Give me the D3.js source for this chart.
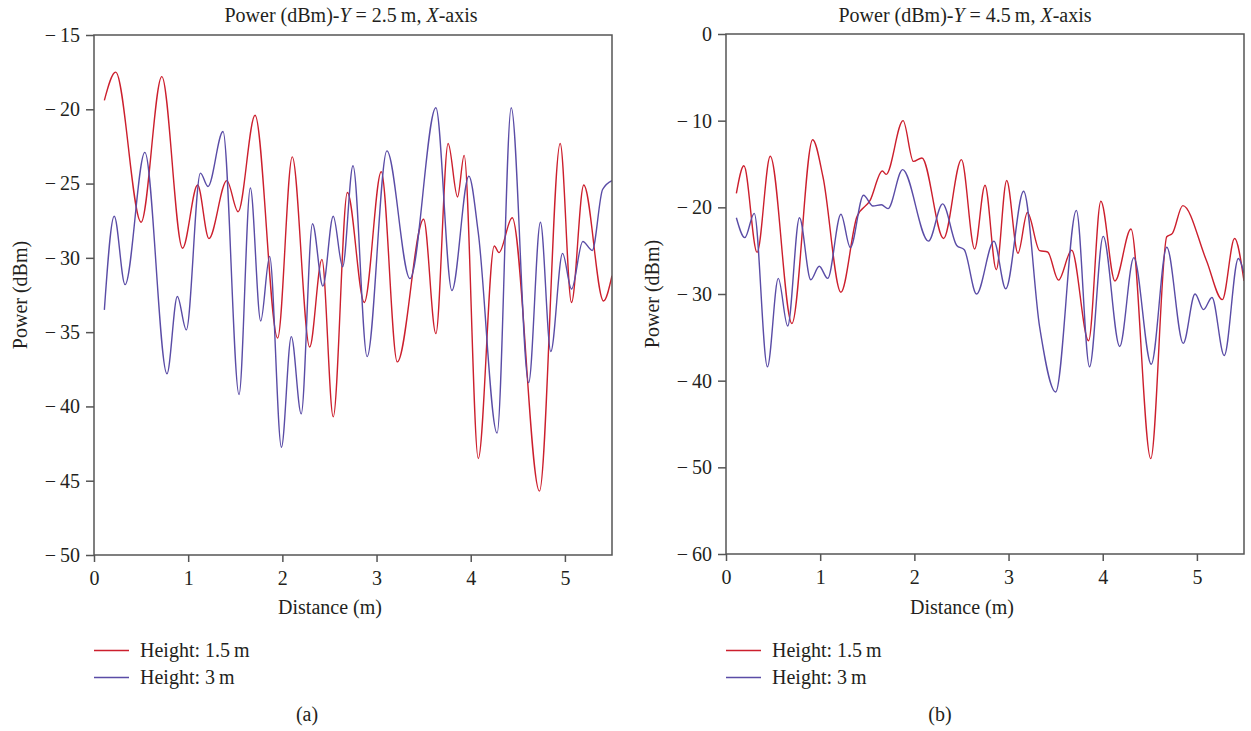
<!DOCTYPE html>
<html>
<head>
<meta charset="utf-8">
<script src="https://cdn.jsdelivr.net/npm/d3@7"></script>
<style>
	body { margin: 0; background: #fff; }
	svg { display: block; font-family: "Liberation Serif", "DejaVu Serif", serif; }
</style>
</head>
<body>
<svg id="chart" width="1251" height="731"></svg>
<script>
// [distance (m), power (dBm)]
const lowA = [[0.11,-19.4],[0.23,-17.5],[0.50,-27.6],[0.72,-17.8],[0.94,-29.35],[1.10,-25.1],[1.22,-28.7],[1.41,-24.8],[1.53,-26.9],[1.71,-20.4],[1.95,-35.4],[2.105,-23.2],[2.29,-36.0],[2.42,-30.1],[2.54,-40.7],[2.69,-25.6],[2.87,-33.0],[3.05,-24.2],[3.22,-37.0],[3.50,-27.4],[3.63,-35.1],[3.76,-22.3],[3.86,-25.9],[3.93,-23.1],[4.08,-43.5],[4.25,-29.2],[4.30,-29.65],[4.44,-27.3],[4.73,-45.7],[4.95,-22.3],[5.07,-33.0],[5.20,-25.1],[5.41,-32.9],[5.5,-31.2]];
const highA = [[0.11,-33.5],[0.215,-27.2],[0.33,-31.8],[0.54,-22.9],[0.775,-37.8],[0.885,-32.6],[0.98,-34.85],[1.13,-24.3],[1.21,-25.2],[1.37,-21.5],[1.54,-39.2],[1.66,-25.3],[1.77,-34.25],[1.865,-29.9],[1.99,-42.75],[2.095,-35.3],[2.20,-40.5],[2.32,-27.7],[2.43,-31.9],[2.54,-27.2],[2.64,-30.6],[2.75,-23.8],[2.90,-36.65],[3.11,-22.8],[3.355,-31.4],[3.63,-19.9],[3.80,-32.2],[3.98,-24.5],[4.08,-28.3],[4.28,-41.8],[4.43,-19.9],[4.615,-38.4],[4.74,-27.6],[4.85,-36.3],[4.975,-29.7],[5.07,-32.1],[5.19,-28.9],[5.29,-29.5],[5.40,-25.4],[5.5,-24.8]];
const lowB = [[0.11,-18.4],[0.19,-15.2],[0.33,-25.2],[0.47,-14.1],[0.70,-33.4],[0.92,-12.2],[1.03,-16.5],[1.22,-29.8],[1.39,-21.1],[1.53,-19.2],[1.66,-15.8],[1.70,-16.2],[1.88,-10.0],[1.99,-14.7],[2.08,-14.3],[2.31,-23.6],[2.50,-14.5],[2.64,-24.8],[2.75,-17.45],[2.87,-27.2],[2.98,-16.9],[3.10,-25.3],[3.20,-20.6],[3.33,-25.0],[3.415,-25.15],[3.53,-28.4],[3.67,-24.95],[3.85,-35.4],[3.98,-19.3],[4.13,-28.5],[4.30,-22.5],[4.51,-49.0],[4.68,-23.4],[4.74,-23.0],[4.85,-19.8],[5.10,-26.1],[5.27,-30.65],[5.40,-23.6],[5.5,-28.5]];
const highB = [[0.11,-21.2],[0.20,-23.5],[0.30,-20.7],[0.44,-38.4],[0.555,-28.2],[0.655,-33.7],[0.78,-21.2],[0.90,-28.35],[0.99,-26.8],[1.08,-28.2],[1.22,-20.8],[1.32,-24.65],[1.46,-18.6],[1.56,-19.85],[1.65,-19.7],[1.72,-20.15],[1.875,-15.65],[2.15,-23.9],[2.30,-19.6],[2.45,-24.4],[2.53,-24.9],[2.66,-30.0],[2.845,-23.9],[2.97,-29.4],[3.16,-18.15],[3.33,-33.8],[3.50,-41.3],[3.72,-20.35],[3.86,-38.4],[4.005,-23.35],[4.18,-36.05],[4.33,-25.8],[4.515,-38.1],[4.68,-24.6],[4.855,-35.7],[4.98,-30.0],[5.07,-31.8],[5.16,-30.4],[5.29,-37.1],[5.44,-25.9],[5.5,-27.6]];

const xTicks = [0, 1, 2, 3, 4, 5];
const yTicksA = [-50, -45, -40, -35, -30, -25, -20, -15];
const yTicksB = [-60, -50, -40, -30, -20, -10, 0];
const seriesNames = ["Height: 1.5\u2009m", "Height: 3\u2009m"];
const seriesColors = ["#cc1f2d", "#5a4ca6"];

const svg = d3.select("#chart");
const fontSize = 20;
const ink = "#231f20";

const fmt = d => d < 0 ? "\u2212\u2009" + Math.abs(d) : String(d);

function panel(opts) {
	const x = d3.scaleLinear().domain([0, 5.5]).range([opts.left, opts.right]);
	const y = d3.scaleLinear().domain(opts.yDomain).range([opts.bottom, opts.top]);
	const g = svg.append("g");

	const clipId = "clip-" + opts.tag;
	g.append("clipPath").attr("id", clipId)
		.append("rect")
		.attr("x", opts.left).attr("y", opts.top)
		.attr("width", opts.right - opts.left).attr("height", opts.bottom - opts.top);

	const line = d3.line()
		.x(d => x(d[0]))
		.y(d => y(d[1]))
		.curve(d3.curveMonotoneX);

	g.append("g").attr("clip-path", "url(#" + clipId + ")")
		.selectAll("path")
		.data(opts.series)
		.join("path")
		.attr("d", d => line(d))
		.attr("fill", "none")
		.attr("stroke", (d, i) => seriesColors[i])
		.attr("stroke-width", 1.4);

	// frame
	g.append("rect")
		.attr("x", opts.left).attr("y", opts.top)
		.attr("width", opts.right - opts.left).attr("height", opts.bottom - opts.top)
		.attr("fill", "none")
		.attr("stroke", "#555")
		.attr("stroke-width", 1.5);

	const yAxis = g.append("g")
		.attr("transform", "translate(" + opts.left + ",0)")
		.call(d3.axisLeft(y).tickValues(opts.yTicks).tickFormat(fmt).tickSize(8).tickSizeOuter(0).tickPadding(6));
	const xAxis = g.append("g")
		.attr("transform", "translate(0," + opts.bottom + ")")
		.call(d3.axisBottom(x).tickValues(xTicks).tickFormat(fmt).tickSize(7).tickSizeOuter(0).tickPadding(9));

	[yAxis, xAxis].forEach(a => {
		a.select(".domain").remove();
		a.selectAll(".tick line").attr("stroke", "#555").attr("stroke-width", 1.5);
		a.selectAll(".tick text")
			.attr("fill", ink)
			.attr("font-family", "Liberation Serif")
			.attr("font-size", fontSize);
	});

	const text = (tx, ty, s) => g.append("text")
		.attr("x", tx).attr("y", ty)
		.attr("fill", ink)
		.attr("font-size", fontSize)
		.text(s);

	// title with italic variables
	const title = g.append("text")
		.attr("x", opts.titleX).attr("y", 22)
		.attr("text-anchor", "middle")
		.attr("fill", ink)
		.attr("font-size", fontSize);
	title.append("tspan").text("Power (dBm)-");
	title.append("tspan").attr("font-style", "italic").text("Y");
	title.append("tspan").text(" = " + opts.height + "\u2009m, ");
	title.append("tspan").attr("font-style", "italic").text("X");
	title.append("tspan").text("-axis");

	text((opts.left + opts.right) / 2 - 23, 614, "Distance (m)").attr("text-anchor", "middle");

	g.append("text")
		.attr("transform", "translate(" + (opts.left - 67) + "," + (opts.top + opts.bottom) / 2 + ") rotate(-90)")
		.attr("text-anchor", "middle")
		.attr("fill", ink)
		.attr("font-size", fontSize)
		.text("Power (dBm)");

	// legend
	seriesNames.forEach((name, i) => {
		const ly = 650.5 + i * 27;
		g.append("line")
			.attr("x1", opts.left).attr("x2", opts.left + 35)
			.attr("y1", ly).attr("y2", ly)
			.attr("stroke", seriesColors[i]).attr("stroke-width", 1.4);
		text(opts.left + 46, ly + 6.5, name);
	});

	text(opts.tagX, 721, "(" + opts.tag + ")").attr("text-anchor", "middle");
}

panel({
	tag: "a", left: 94, right: 612, top: 35, bottom: 555,
	yDomain: [-50, -15], yTicks: yTicksA, height: "2.5",
	series: [lowA, highA], titleX: 351, tagX: 307
});

panel({
	tag: "b", left: 726, right: 1244, top: 34, bottom: 554,
	yDomain: [-60, 0], yTicks: yTicksB, height: "4.5",
	series: [lowB, highB], titleX: 965, tagX: 940
});
</script>
</body>
</html>
